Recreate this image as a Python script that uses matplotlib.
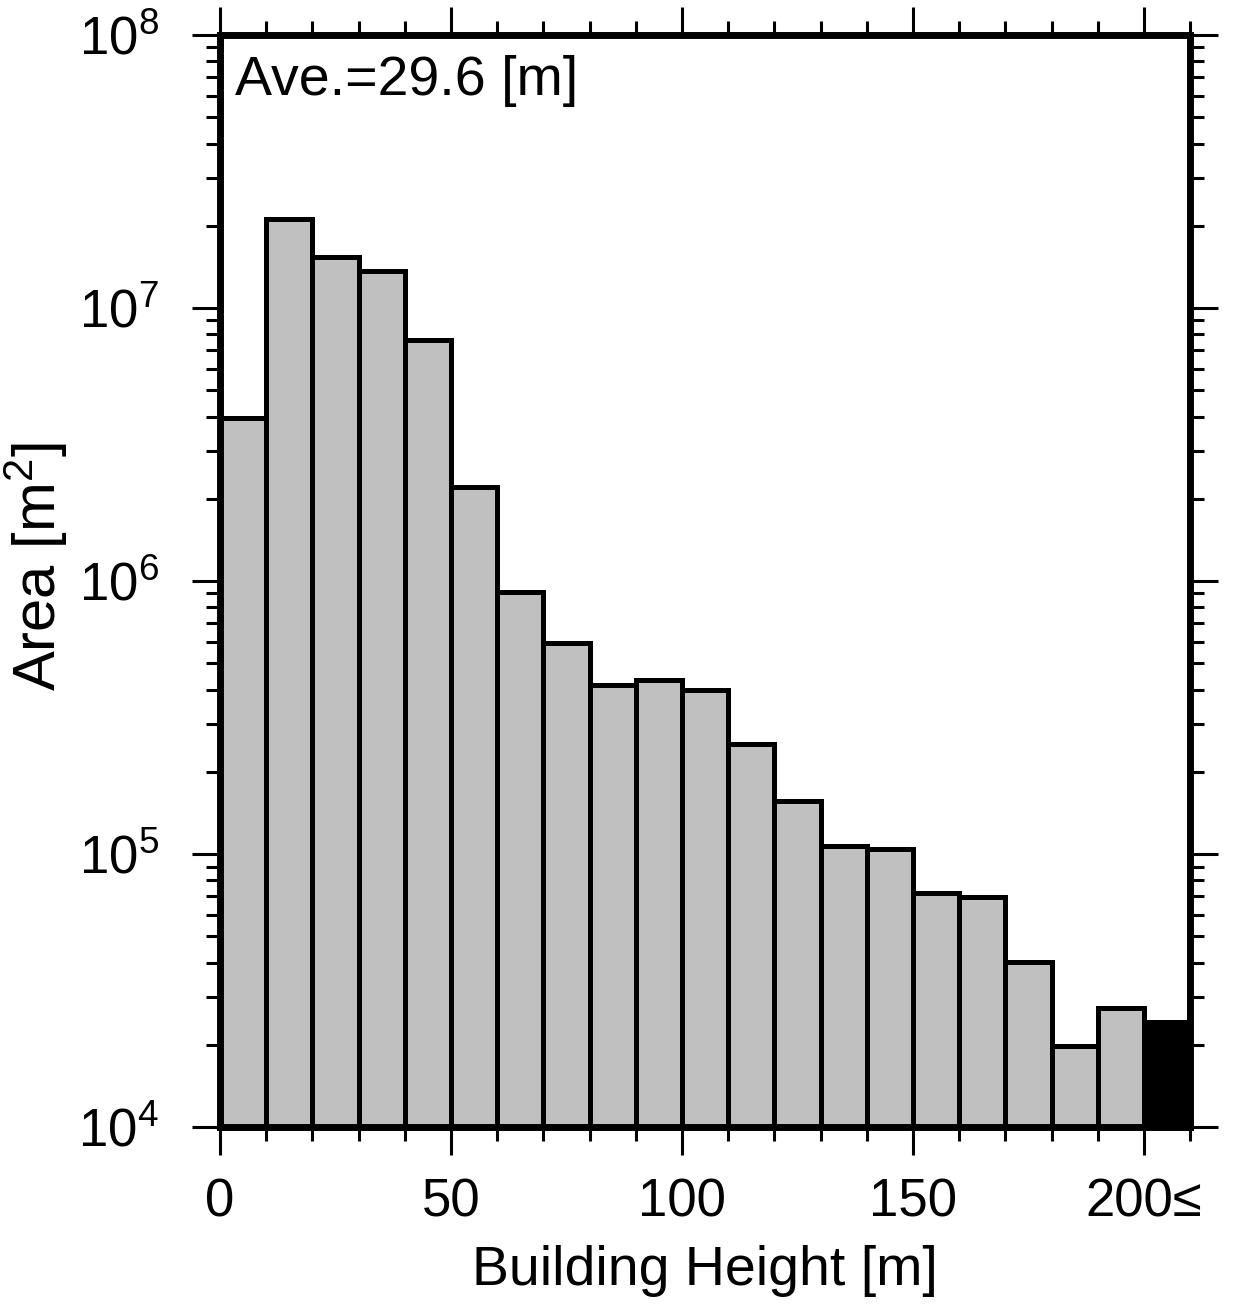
import matplotlib
matplotlib.use('Agg')
import matplotlib.pyplot as plt
import numpy as np

plt.rcParams['font.family'] = ['Liberation Sans', 'DejaVu Sans']
plt.rcParams['mathtext.fontset'] = 'custom'
plt.rcParams['mathtext.rm'] = 'Liberation Sans'

# bin left edges [m] and area per bin [m^2]; last bin is 200 and above
bin_left = [0, 10, 20, 30, 40, 50, 60, 70, 80, 90, 100,
            110, 120, 130, 140, 150, 160, 170, 180, 190, 200]
area = [3.95e6, 2.12e7, 1.54e7, 1.37e7, 7.63e6, 2.21e6, 9.1e5, 5.93e5,
        4.16e5, 4.34e5, 3.99e5, 2.53e5, 1.56e5, 1.07e5, 1.04e5, 7.2e4,
        6.96e4, 4.02e4, 1.98e4, 2.73e4, 2.42e4]
xtick_vals = [0, 50, 100, 150, 200]
xtick_labels = ['0', '50', '100', '150', '200≤']
ytick_vals = [1e4, 1e5, 1e6, 1e7, 1e8]
ytick_labels = [r'$\mathregular{10^{4}}$', r'$\mathregular{10^{5}}$',
                r'$\mathregular{10^{6}}$', r'$\mathregular{10^{7}}$',
                r'$\mathregular{10^{8}}$']
ave = 29.6

fig = plt.figure(figsize=(12.41, 13.09), dpi=100)
ax = fig.add_axes([0.1773, 0.139, 0.7817, 0.8343])

colors = ['#c0c0c0'] * (len(bin_left) - 1) + ['black']
ax.bar(bin_left, area, width=10, align='edge', color=colors,
       edgecolor='black', linewidth=3.6, zorder=2)

ax.set_yscale('log')
ax.set_ylim(1e4, 1e8)
ax.set_xlim(0, 210)

ax.set_xticks(xtick_vals)
ax.set_xticklabels(xtick_labels)
ax.set_xticks(np.arange(0, 211, 10), minor=True)
ax.set_yticks(ytick_vals)
ax.set_yticklabels(ytick_labels)

ax.tick_params(which='both', direction='out', top=True, right=True,
               labeltop=False, labelright=False, width=2.2)
ax.tick_params(which='major', length=20, labelsize=38)
ax.tick_params(which='minor', length=10)
ax.tick_params(axis='x', which='major', pad=16)
ax.tick_params(axis='y', which='major', pad=24)

for s in ax.spines.values():
    s.set_linewidth(5)
    s.set_zorder(3)

ax.set_xlabel('Building Height [m]', fontsize=40)
ax.xaxis.set_label_coords(0.5, -0.108)
ax.set_ylabel(r'Area [m$\mathregular{^2}$]', fontsize=43)
ax.yaxis.set_label_coords(-0.155, 0.513)

ax.text(0.015, 0.982, 'Ave.=%.1f [m]' % ave, transform=ax.transAxes,
        fontsize=40, va='top', ha='left')

plt.savefig('out.png', dpi=100)
